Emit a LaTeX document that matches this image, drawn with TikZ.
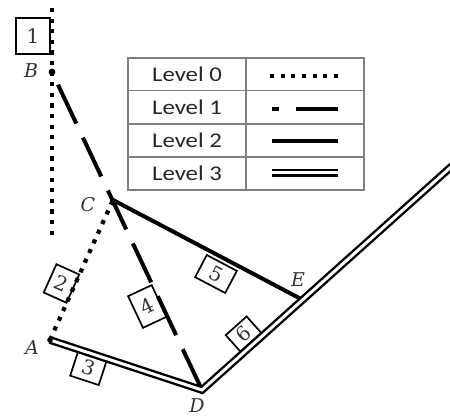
\documentclass[tikz,border=0pt]{standalone}
\usepackage{fontspec}
\newfontfamily\lvlfont[FakeStretch=1.18]{Carlito}
\newfontfamily\numfont{DejaVu Serif}
\begin{document}
\begin{tikzpicture}[x=1pt,y=-1pt,
  lv0/.style={line width=4.2pt, dash pattern=on 4.2pt off 6.4pt},
  lv1/.style={line width=4pt, dash pattern=on 43pt off 15.5pt},
  lv2/.style={line width=4pt},
  lv3/.style={double, line width=2.4pt, double distance=3pt},
  numbox/.style={draw, line width=1.7pt, inner sep=0pt, font=\numfont\fontsize{20}{20}\selectfont, text=black!80},
  ptlabel/.style={font=\numfont\itshape\fontsize{19}{19}\selectfont, text=black!80, inner sep=1pt},
  lvltext/.style={font=\lvlfont\fontsize{21}{21}\selectfont, text=black!85},
  grid/.style={draw=black!50, line width=1.4pt}]
\useasboundingbox (0,0) rectangle (450,419);

% points
\coordinate (T) at (52,8);
\coordinate (Bot) at (52,238);
\coordinate (B) at (52,72);
\coordinate (C) at (113,200);
\coordinate (A) at (50,340);
\coordinate (D) at (202,390);
\coordinate (E) at (303,300);
\coordinate (F) at (452,166);

% boxes
\node[numbox, minimum width=34pt, minimum height=36pt] (n1) at (33,36) {1};
\node[numbox, rotate=-24.2, minimum width=25pt, minimum height=31pt] (n2) at (61.5,283.5) {2};
\node[numbox, rotate=-18.2, minimum width=30pt, minimum height=26pt] (n3) at (88.5,368) {3};
\node[numbox, rotate=25.1, minimum width=26pt, minimum height=35pt] (n4) at (147.3,306.5) {4};
\node[numbox, rotate=-27.8, minimum width=34pt, minimum height=25pt] (n5) at (216,274) {5};
\node[numbox, rotate=41.7, minimum width=28pt, minimum height=22pt] (n6) at (243.5,334) {6};

% lines
\draw[lv0] (T) -- (Bot);
\draw[lv0] (A) -- (C);
\draw[lv1, dash phase=44.5pt] (B) -- (D);
\draw[lv2] (C) -- (E);
\draw[lv3] (A) -- (D) -- (F);
\fill (B) circle (3.4pt);
\fill (A) circle (2.8pt);

% point labels
\node[ptlabel] (lB) at (31,71) {B};
\node[ptlabel] (lC) at (88,205) {C};
\node[ptlabel] (lA) at (32,348) {A};
\node[ptlabel] (lD) at (197,406) {D};
\node[ptlabel] (lE) at (298,280) {E};

% legend table
\draw[grid] (128,58) rectangle (364,190);
\draw[grid] (246,58) -- (246,190);
\draw[grid] (128,90.5) -- (364,90.5);
\draw[grid] (128,124) -- (364,124);
\draw[grid] (128,157) -- (364,157);
\node[lvltext] (t0) at (187,74.5) {Level 0};
\node[lvltext] (t1) at (187,107.5) {Level 1};
\node[lvltext] (t2) at (187,140.5) {Level 2};
\node[lvltext] (t3) at (187,173.5) {Level 3};
\coordinate (l0a) at (270,76); \coordinate (l0b) at (338,76);
\coordinate (l1a) at (272,109); \coordinate (l1b) at (279,109);
\coordinate (l1c) at (296,109); \coordinate (l1d) at (338,109);
\coordinate (l2a) at (272,141); \coordinate (l2b) at (338,141);
\coordinate (l3a) at (272,173); \coordinate (l3b) at (338,173);
\draw[lv0, dash pattern=on 4pt off 6.67pt] (l0a) -- (l0b);
\draw[line width=4pt] (l1a) -- (l1b);
\draw[line width=4pt] (l1c) -- (l1d);
\draw[lv2] (l2a) -- (l2b);
\draw[lv3] (l3a) -- (l3b);
\end{tikzpicture}
\end{document}
